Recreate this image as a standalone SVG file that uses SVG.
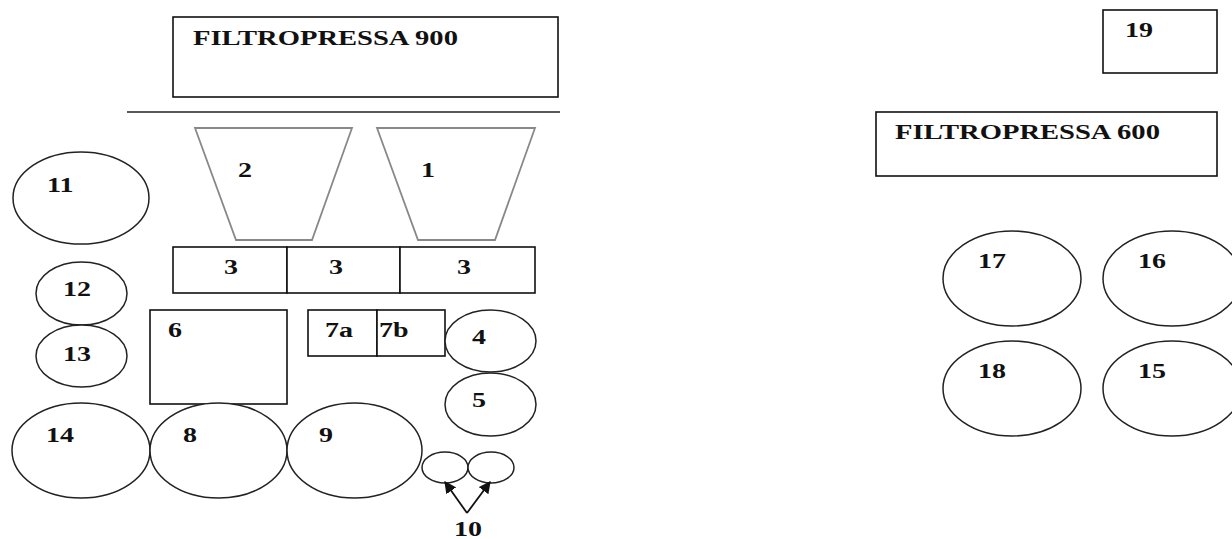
<svg xmlns="http://www.w3.org/2000/svg" width="1232" height="539" viewBox="0 0 1232 539">
  <style>
    .box { fill: #fff; stroke: #111; stroke-width: 1.6; }
    .tank { fill: #fff; stroke: #222; stroke-width: 1.5; }
    .hopper { fill: #fff; stroke: #888; stroke-width: 1.8; }
    .rule { stroke: #222; stroke-width: 1.4; }
    .lbl { font-family: "Liberation Serif", "Times New Roman", serif; font-size: 20px; font-weight: bold; fill: #111; }
    .arrow { stroke: #111; stroke-width: 1.8; fill: none; marker-end: url(#head); }
  </style>
  <defs>
    <marker id="head" viewBox="0 0 10 10" refX="9" refY="5" markerWidth="12" markerHeight="12" markerUnits="userSpaceOnUse" orient="auto">
      <path d="M0,0 L10,5 L0,10 z" fill="#111"/>
    </marker>
  </defs>
  <rect width="1232" height="539" fill="#fff"/>

  <!-- filter press 900 and the floor line below it -->
  <g id="filtropressa-900">
    <rect class="box" x="173" y="17" width="385" height="80"/>
    <text class="lbl" transform="translate(193,45) scale(1.43,1)">FILTROPRESSA 900</text>
  </g>
  <line class="rule" x1="127" y1="112" x2="560" y2="112"/>

  <!-- hoppers -->
  <g id="node-2">
    <polygon class="hopper" points="195,128 352,128 312,240 236,240"/>
    <text class="lbl" transform="translate(238,177) scale(1.4,1)">2</text>
  </g>
  <g id="node-1">
    <polygon class="hopper" points="377,128 535,128 495,240 418,240"/>
    <text class="lbl" transform="translate(421,177) scale(1.4,1)">1</text>
  </g>

  <!-- row of three bins -->
  <g id="node-3a">
    <rect class="box" x="173" y="247" width="114" height="46"/>
    <text class="lbl" transform="translate(224,274) scale(1.4,1)">3</text>
  </g>
  <g id="node-3b">
    <rect class="box" x="287" y="247" width="113" height="46"/>
    <text class="lbl" transform="translate(329,274) scale(1.4,1)">3</text>
  </g>
  <g id="node-3c">
    <rect class="box" x="400" y="247" width="135" height="46"/>
    <text class="lbl" transform="translate(457,274) scale(1.4,1)">3</text>
  </g>

  <!-- left column of tanks -->
  <g id="node-11">
    <ellipse class="tank" cx="81" cy="198" rx="68" ry="46"/>
    <text class="lbl" transform="translate(47,192) scale(1.4,1)">11</text>
  </g>
  <g id="node-12">
    <ellipse class="tank" cx="81.5" cy="293.5" rx="45.5" ry="31.5"/>
    <text class="lbl" transform="translate(63,296) scale(1.4,1)">12</text>
  </g>
  <g id="node-13">
    <ellipse class="tank" cx="81.5" cy="356" rx="45.5" ry="31"/>
    <text class="lbl" transform="translate(63,361) scale(1.4,1)">13</text>
  </g>

  <g id="node-6">
    <rect class="box" x="150" y="310" width="137" height="94"/>
    <text class="lbl" transform="translate(168,337) scale(1.4,1)">6</text>
  </g>
  <g id="node-7a">
    <rect class="box" x="308" y="310" width="69" height="46"/>
    <text class="lbl" transform="translate(325,337) scale(1.4,1)">7a</text>
  </g>
  <g id="node-7b">
    <rect class="box" x="377" y="310" width="68" height="46"/>
    <text class="lbl" transform="translate(379,337) scale(1.4,1)">7b</text>
  </g>
  <g id="node-4">
    <ellipse class="tank" cx="490.5" cy="341" rx="45.5" ry="31"/>
    <text class="lbl" transform="translate(472,344) scale(1.4,1)">4</text>
  </g>
  <g id="node-5">
    <ellipse class="tank" cx="490.5" cy="404.5" rx="45.5" ry="31.5"/>
    <text class="lbl" transform="translate(472,407) scale(1.4,1)">5</text>
  </g>

  <!-- bottom row of tanks -->
  <g id="node-14">
    <ellipse class="tank" cx="81" cy="450.5" rx="69" ry="47.5"/>
    <text class="lbl" transform="translate(46,442) scale(1.4,1)">14</text>
  </g>
  <g id="node-8">
    <ellipse class="tank" cx="218.5" cy="450.5" rx="68.5" ry="47.5"/>
    <text class="lbl" transform="translate(183,442) scale(1.4,1)">8</text>
  </g>
  <g id="node-9">
    <ellipse class="tank" cx="354.5" cy="450.5" rx="67.5" ry="47.5"/>
    <text class="lbl" transform="translate(319,442) scale(1.4,1)">9</text>
  </g>
  <g id="node-10">
    <ellipse class="tank" cx="445" cy="467.5" rx="23" ry="15.5"/>
    <ellipse class="tank" cx="491" cy="467.5" rx="23" ry="15.5"/>
    <text class="lbl" transform="translate(454,536) scale(1.4,1)">10</text>
  </g>

  <!-- right side -->
  <g id="node-19">
    <rect class="box" x="1103" y="10" width="114" height="63"/>
    <text class="lbl" transform="translate(1125,37) scale(1.4,1)">19</text>
  </g>
  <g id="filtropressa-600">
    <rect class="box" x="876" y="112" width="341" height="64"/>
    <text class="lbl" transform="translate(895,139) scale(1.43,1)">FILTROPRESSA 600</text>
  </g>
  <g id="node-17">
    <ellipse class="tank" cx="1012" cy="278.5" rx="69" ry="47.5"/>
    <text class="lbl" transform="translate(978,268) scale(1.4,1)">17</text>
  </g>
  <g id="node-16">
    <ellipse class="tank" cx="1172" cy="278.5" rx="69" ry="47.5"/>
    <text class="lbl" transform="translate(1138,268) scale(1.4,1)">16</text>
  </g>
  <g id="node-18">
    <ellipse class="tank" cx="1012" cy="388.5" rx="69" ry="47.5"/>
    <text class="lbl" transform="translate(978,378) scale(1.4,1)">18</text>
  </g>
  <g id="node-15">
    <ellipse class="tank" cx="1172" cy="388.5" rx="69" ry="47.5"/>
    <text class="lbl" transform="translate(1138,378) scale(1.4,1)">15</text>
  </g>

  <!-- pointer arrows for item 10 -->
  <g id="connectors">
    <line class="arrow" x1="467" y1="513" x2="445" y2="482"/>
    <line class="arrow" x1="467" y1="513" x2="490" y2="482"/>
  </g>
</svg>
